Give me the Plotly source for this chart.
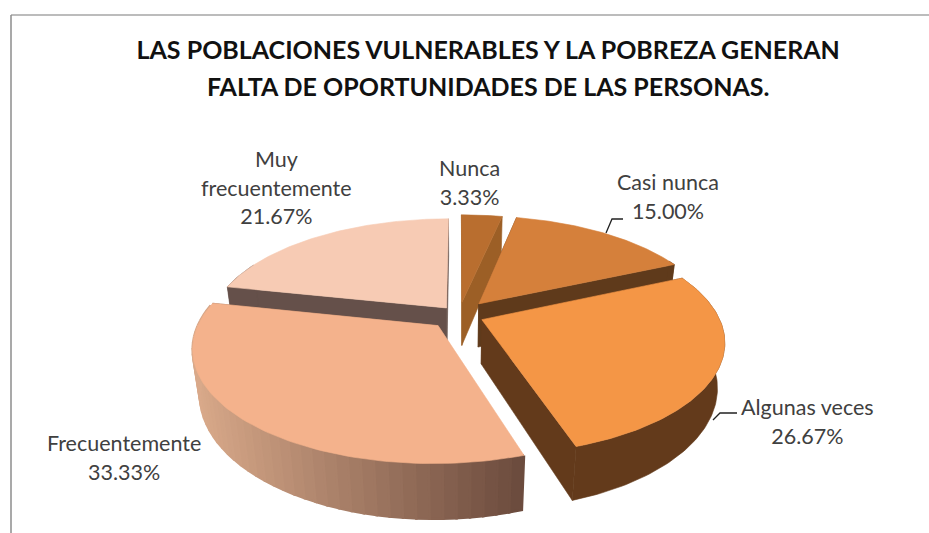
import numpy as np
import plotly.graph_objects as go

categories = ["Nunca", "Casi nunca", "Algunas veces", "Frecuentemente", "Muy frecuentemente"]
values = [3.33, 15.00, 26.67, 33.33, 21.67]
label_lines = [["Nunca"], ["Casi nunca"], ["Algunas veces"], ["Frecuentemente"], ["Muy", "frecuentemente"]]
top_colors = ["#b96e2f", "#d5803b", "#f49646", "#f4b28c", "#f7cbb4"]
wall_colors = ["#9c5f26", "#5f3a1b", "#633a1b", "#8a6450", "#65504a"]
title_lines = ["LAS POBLACIONES VULNERABLES Y LA POBREZA GENERAN",
               "FALTA DE OPORTUNIDADES DE LAS PERSONAS."]

# projection of the tilted disc onto the page
CX, CY = 459.0, 315.0
RX, RY = 236.0, 108.0
PERSP = 0.185
DEPTH = 44.0
SHRINK = 0.0006
explode = [0.12, 0.135, 0.105, 0.13, 0.085]
label_pos = [(469, 182), (668, 196), (807, 421), (124, 457), (276, 187)]
text_color = "#404040"


def project(u, v, drop=0.0):
    p = 1.0 / (1.0 + PERSP * v)
    return CX + RX * u * p * (1 - SHRINK * drop * p), CY - RY * v * p + drop * p


def disc(theta, mid, e):
    ou, ov = e * np.sin(mid), e * np.cos(mid)
    return np.sin(theta) + ou, np.cos(theta) + ov, ou, ov


fig = go.Figure()


def poly(xs, ys, color, name, width=0.6):
    fig.add_trace(go.Scatter(x=list(xs), y=list(ys), mode="lines", fill="toself", fillcolor=color,
                             line=dict(color=color, width=width), hoverinfo="name", name=name,
                             showlegend=False))


def hex_mix(a, b, t):
    ca = [int(a[i:i + 2], 16) for i in (1, 3, 5)]
    cb = [int(b[i:i + 2], 16) for i in (1, 3, 5)]
    return "rgb(%d,%d,%d)" % tuple(round(x + (y - x) * t) for x, y in zip(ca, cb))


total = sum(values)
edges = np.cumsum([0] + values) / total * 2 * np.pi
order = [4, 0, 1, 2, 3]  # back to front

for i in order:
    a0, a1 = edges[i], edges[i + 1]
    mid = (a0 + a1) / 2
    th = np.linspace(a0, a1, 90)
    u, v, ou, ov = disc(th, mid, explode[i])
    name = categories[i]
    # straight walls
    for a in (a0, a1):
        ua, va, _, _ = disc(np.array([a]), mid, explode[i])
        x1, y1 = project(ua[0], va[0])
        x2, y2 = project(ou, ov)
        x3, y3 = project(ou, ov, DEPTH)
        x4, y4 = project(ua[0], va[0], DEPTH)
        if name != "Frecuentemente" or a == a1:
            poly([x1, x2, x3, x4, x1], [y1, y2, y3, y4, y1], wall_colors[i], name)
    # rim
    xt, yt = project(u, v)
    xb, yb = project(u, v, DEPTH)
    if name == "Frecuentemente":
        # shaded rim, lighter on the left and darker on the right
        xmin, xmax = xt.min(), xt.max()
        for k in range(0, len(th) - 2, 2):
            t = (0.5 * (xt[k] + xt[k + 2]) - xmin) / (xmax - xmin)
            c = hex_mix("#d9a98a", "#6a4a3c", t)
            poly([xt[k], xt[k + 2], xb[k + 2], xb[k], xt[k]],
                 [yt[k], yt[k + 2], yb[k + 2], yb[k], yt[k]], c, name, width=2.5)
    else:
        mask = np.cos(th) < 0.45
        if mask.any():
            poly(list(xt[mask]) + list(xb[mask][::-1]), list(yt[mask]) + list(yb[mask][::-1]),
                 wall_colors[i], name)
    # top face
    xa, ya = project(ou, ov)
    poly([xa] + list(xt) + [xa], [ya] + list(yt) + [ya], top_colors[i], name)

# leader lines
leaders = [[(606, 233), (612, 219), (623, 219)], [(713, 420), (720, 413), (737, 413)]]
for seg in leaders:
    fig.add_trace(go.Scatter(x=[p[0] for p in seg], y=[p[1] for p in seg], mode="lines",
                             line=dict(color="#222222", width=1.3), hoverinfo="skip", showlegend=False))

for lines, val, (lx, ly) in zip(label_lines, values, label_pos):
    parts = lines + [f"{val:.2f}%"]
    text = "<br>".join(f"<span style='font-size:21.5px'>{s}</span>" for s in parts)
    fig.add_annotation(x=lx, y=ly, xref="x", yref="y", text=text, showarrow=False,
                       font=dict(family="Lato", size=22, color=text_color), align="center")

fig.update_layout(
    width=929, height=533, margin=dict(l=0, r=0, t=0, b=0),
    paper_bgcolor="white", plot_bgcolor="white", showlegend=False,
    title=dict(text=f"<span style='font-size:25px'>{title_lines[0]}</span><br>"
                    f"<span style='font-size:25px'>{title_lines[1]}</span>",
               x=0.5255, xref="paper", xanchor="center", y=0.889, yref="paper", yanchor="middle",
               font=dict(family="Lato", size=28, color="#111111", weight="bold")),
    xaxis=dict(range=[0, 929], visible=False, fixedrange=True),
    yaxis=dict(range=[533, 0], visible=False, fixedrange=True),
    shapes=[dict(type="line", xref="x", yref="y", x0=11, x1=929, y0=15, y1=15,
                 line=dict(color="#a6a6a6", width=1.5)),
            dict(type="line", xref="x", yref="y", x0=11, x1=11, y0=15, y1=533,
                 line=dict(color="#8c8c8c", width=1.5))],
)
fig.write_html("out.html", config={"displayModeBar": False},
               post_script="document.body.style.margin='0';")
